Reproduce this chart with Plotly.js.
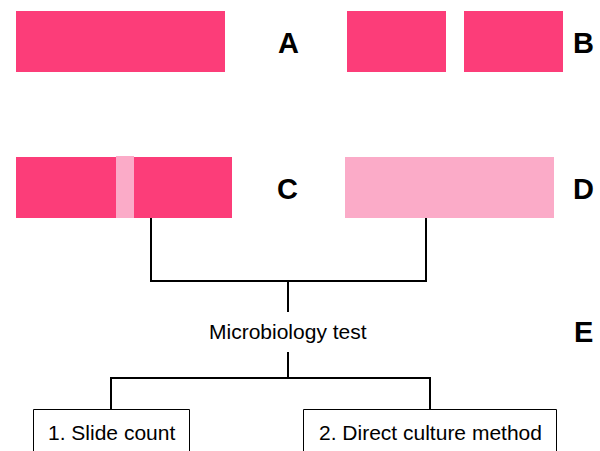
<!DOCTYPE html>
<html><head><meta charset="utf-8">
<script src="https://cdn.plot.ly/plotly-3.0.1.min.js"></script>
<style>html,body{margin:0;padding:0;background:#fff}</style>
</head><body>
<div id="chart" style="width:600px;height:451px"></div>
<script>
// Bar segments (pixel-space diagram coordinates)
const segX0 = [16, 347, 464, 16, 134, 345, 116];
const segX1 = [225, 446, 563, 116, 232, 554, 134];
const segY0 = [11, 11, 11, 157, 157, 157, 156];
const segY1 = [72, 72, 72, 218, 218, 218, 218];
const segTone = ['dark','dark','dark','dark','dark','light','light'];
// Row labels
const labelText = ['A','B','C','D','E'];
const labelX = [288, 583, 287, 583, 583];
const labelY = [43, 43, 189, 189, 332];
// Connector lines (polylines)
const connectors = [
  {x:[151,151,426,426], y:[218,281,281,218]},
  {x:[288,288], y:[281,312]},
  {x:[288,288], y:[352,378]},
  {x:[111,111,430,430], y:[409,378,378,409]}
];
// Text boxes
const boxText = ['1. Slide count','2. Direct culture method'];
const boxX0 = [33.5, 303.5];
const boxX1 = [189.5, 556.5];
const boxY0 = [409.5, 409.5];
const centerText = 'Microbiology test';

const colors = {dark:'#FC3D79', light:'#FBABC8'};
const shapes = [];
for (let i=0;i<segX0.length;i++){
  shapes.push({type:'rect', xref:'x', yref:'y', x0:segX0[i], x1:segX1[i], y0:segY0[i], y1:segY1[i],
    fillcolor:colors[segTone[i]], line:{width:0}, layer:'above'});
}
for (const c of connectors){
  let p = 'M' + c.x.map((v,k)=>v+','+c.y[k]).join(' L');
  shapes.push({type:'path', xref:'x', yref:'y', path:p, line:{color:'#000', width:2}});
}
for (let i=0;i<boxText.length;i++){
  shapes.push({type:'rect', xref:'x', yref:'y', x0:boxX0[i], x1:boxX1[i], y0:boxY0[i], y1:470,
    fillcolor:'rgba(0,0,0,0)', line:{color:'#000', width:1}});
}
const annotations = [];
for (let i=0;i<labelText.length;i++){
  annotations.push({x:labelX[i], y:labelY[i], xref:'x', yref:'y', text:'<b>'+labelText[i]+'</b>', showarrow:false,
    font:{family:'Liberation Sans', size:29, color:'#000'}, xanchor:'center', yanchor:'middle'});
}
annotations.push({x:288, y:331, xref:'x', yref:'y', text:centerText, showarrow:false,
  font:{family:'Liberation Sans', size:21, color:'#000'}, xanchor:'center', yanchor:'middle'});
for (let i=0;i<boxText.length;i++){
  annotations.push({x:(boxX0[i]+boxX1[i])/2, y:432, xref:'x', yref:'y', text:boxText[i], showarrow:false,
    font:{family:'Liberation Sans', size:21, color:'#000'}, xanchor:'center', yanchor:'middle'});
}
const layout = {
  width:600, height:451, margin:{l:0,r:0,t:0,b:0},
  paper_bgcolor:'#fff', plot_bgcolor:'#fff', showlegend:false,
  xaxis:{range:[0,600], visible:false, fixedrange:true},
  yaxis:{range:[451,0], visible:false, fixedrange:true},
  shapes, annotations
};
Plotly.newPlot('chart', [{x:[], y:[], type:'scatter', mode:'markers', hoverinfo:'skip'}], layout, {displayModeBar:false, staticPlot:true});
</script>
</body></html>
